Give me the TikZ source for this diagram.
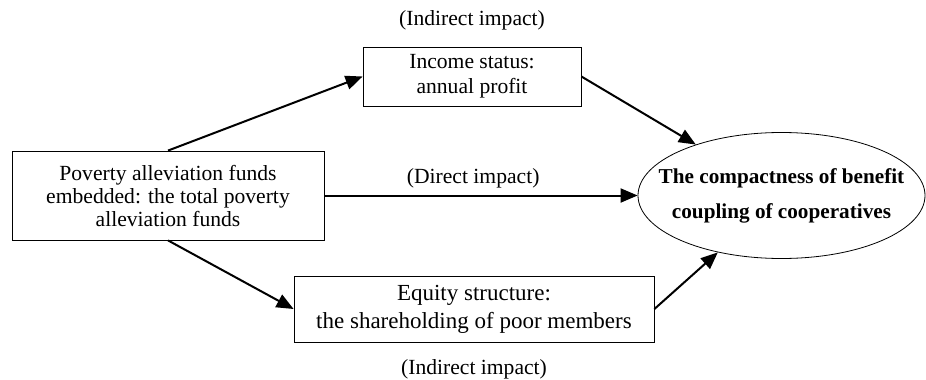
\documentclass[tikz,border=0pt]{standalone}
\usepackage{fontspec}
\setmainfont{Liberation Serif}
\usetikzlibrary{positioning, shapes.geometric, arrows.meta}

\begin{document}
\begin{tikzpicture}[x=1pt, y=1pt, on grid,
    box/.style = {draw, thin, align=center, font=\fontsize{10.8}{11.5}\selectfont},
    goal/.style = {draw, thin, ellipse, align=center, inner xsep=-12pt, inner ysep=0pt, minimum width=143.5pt, minimum height=63pt, font=\fontsize{10.6}{17.5}\selectfont\bfseries},
    note/.style = {font=\fontsize{10.8}{13}\selectfont},
    >={Triangle[length=8.5pt, width=7pt]}]
    \useasboundingbox (0,0) rectangle (463,-190);
    \node[box, minimum width=156pt, minimum height=44.5pt] (1) at (84,-97.75) {Poverty alleviation funds\\ embedded: the total poverty\\ alleviation funds};
    \node[box, minimum width=109pt, minimum height=29.5pt, font=\fontsize{10.8}{12.5}\selectfont] (2) [above right=59.5pt and 152pt of 1] {Income status:\\ annual profit};
    \node[box, minimum width=180pt, minimum height=33pt, font=\fontsize{11.5}{14}\selectfont] (3) [below right=56.75pt and 153pt of 1] {Equity structure:\\ the shareholding of poor members};
    \node[goal] (4) [right=306.75pt of 1] {The compactness of benefit\\ coupling of cooperatives};
    \node[note] (5) [above=28.25pt of 2] {(Indirect impact)};
    \node[note] (6) [below=30pt of 3] {(Indirect impact)};
    \draw[->, line width=1pt] (1.north) to (2.west);
    \draw[->, line width=1pt] (1) to node[pos=0.475, above, font=\fontsize{10.8}{13}\selectfont] {(Direct impact)} (4);
    \draw[->, line width=1pt] (1.south) to (3.west);
    \draw[->, line width=1pt] (2.east) to (4);
    \draw[->, line width=1pt] (3.east) to (4);
\end{tikzpicture}
\end{document}
